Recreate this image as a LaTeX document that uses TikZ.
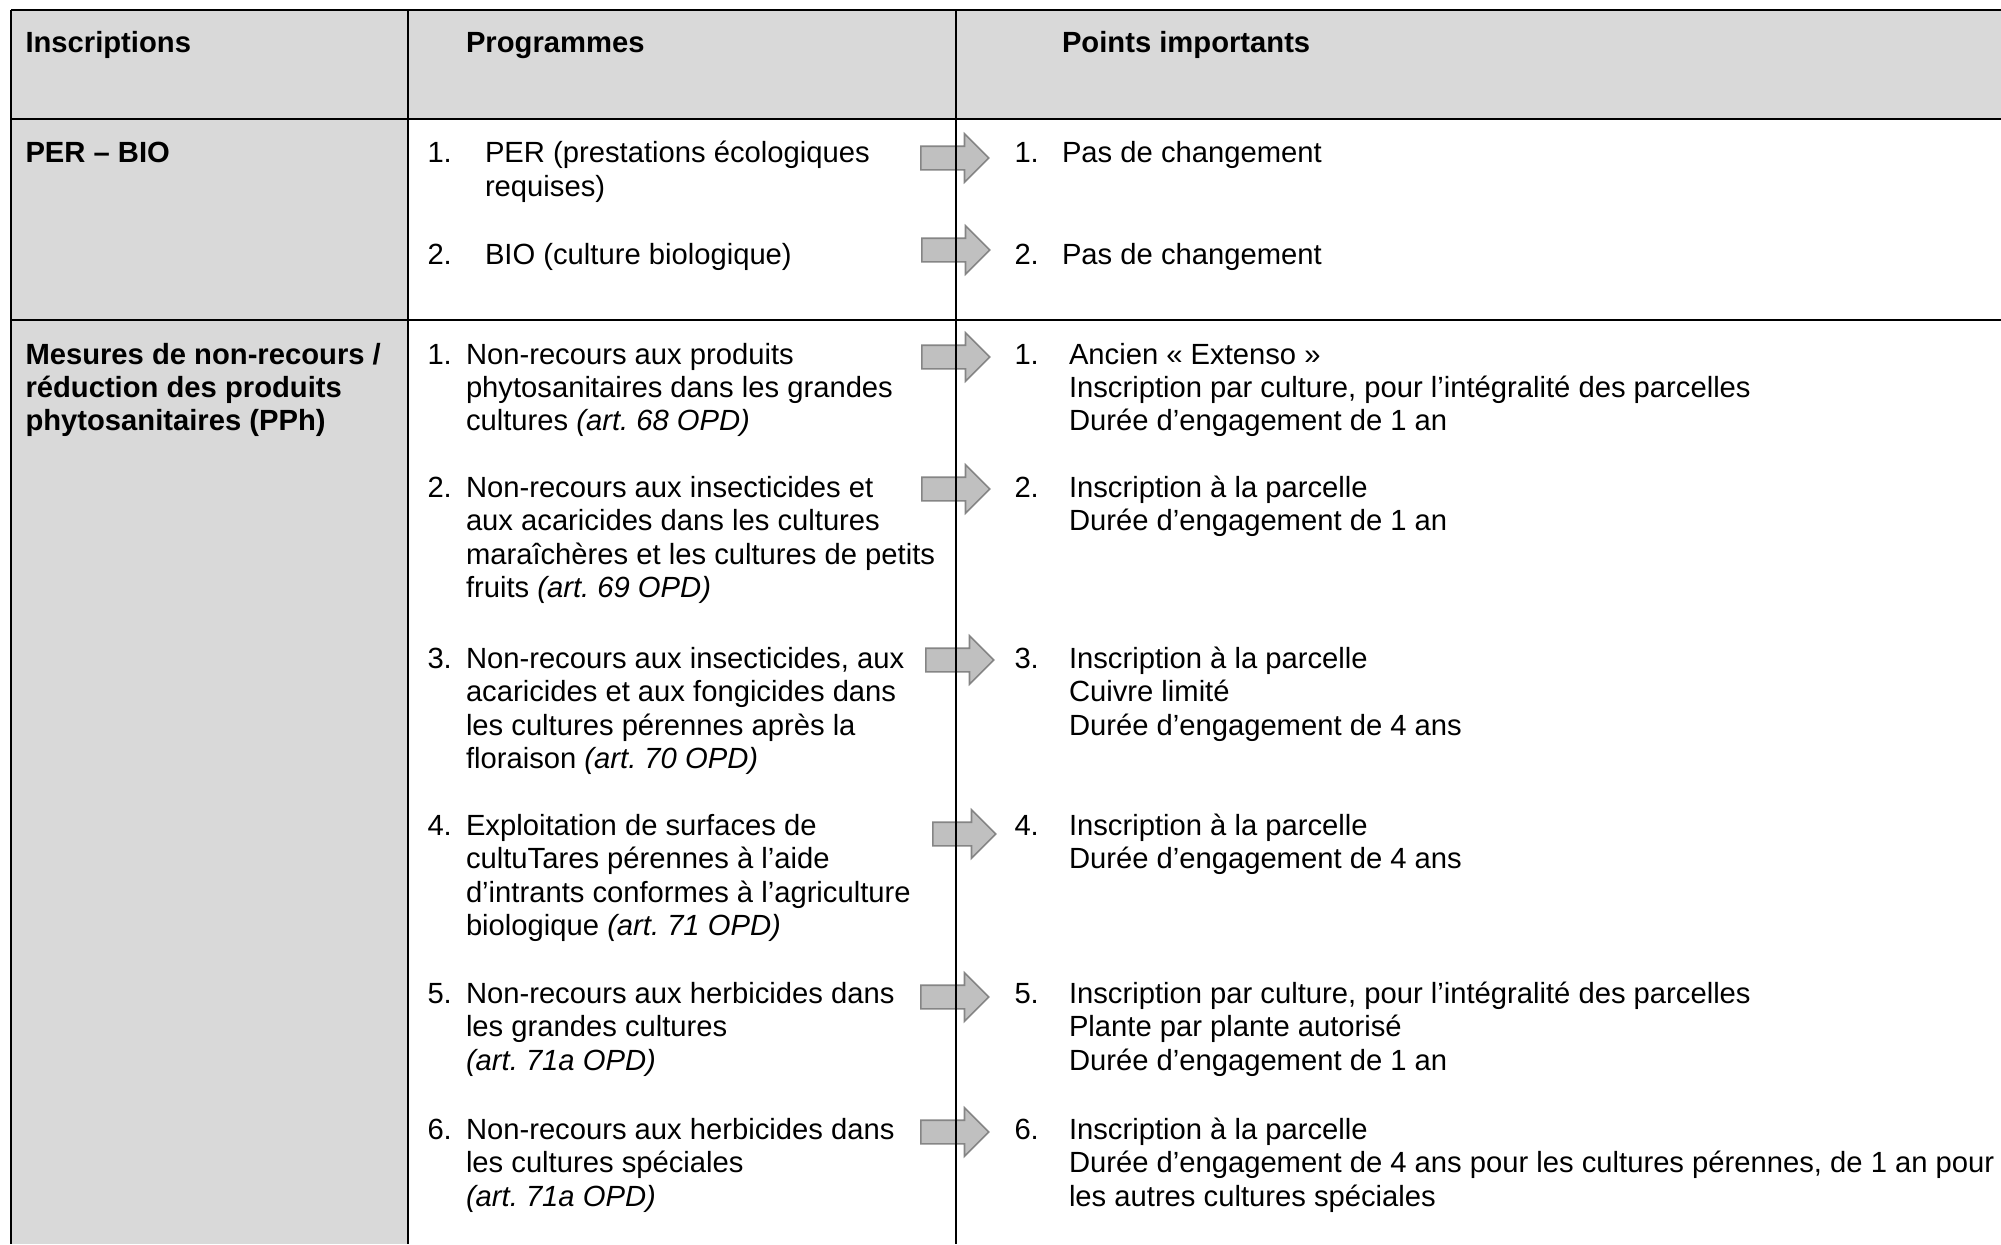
\documentclass[tikz,border=0pt]{standalone}
\usepackage{fontspec}
\setmainfont{Liberation Sans}
\usetikzlibrary{shapes.arrows}
\definecolor{hdgray}{HTML}{D9D9D9}
\definecolor{arrfill}{HTML}{C0C0C0}
\definecolor{arrdraw}{HTML}{858585}
\newcommand\tline[4]{\node[txt] (#1) at (#2,#3) {#4};}
\newcommand\bline[4]{\node[boldtxt] (#1) at (#2,#3) {#4};}
\frenchspacing
\begin{document}
\begin{tikzpicture}[x=0.5pt,y=-0.5pt,
  txt/.style={anchor=base west, inner sep=0pt, outer sep=0pt, font=\fontsize{14.6}{16.6}\selectfont\frenchspacing},
  boldtxt/.style={txt, font=\fontsize{14.6}{16.6}\selectfont\bfseries\frenchspacing},
  rule/.style={line width=1.3pt, black},
  garrow/.style={single arrow, draw=arrdraw, fill=arrfill, line width=0.8pt,
    inner xsep=0pt, inner ysep=5.5pt, minimum width=0pt, minimum height=34pt,
    single arrow head extend=6.25pt, anchor=tail}]
\useasboundingbox (0,0) rectangle (2001,1244);
% backgrounds
\fill[hdgray] (11,10) rectangle (2001,119);
\fill[hdgray] (11,119) rectangle (408,1244);
% arrows
\node[garrow] (aP1) at (920,158) {};
\node[garrow] (aP2) at (921,250) {};
\node[garrow] (aM1) at (921,357) {};
\node[garrow] (aM2) at (921,489) {};
\node[garrow] (aM3) at (925,660) {};
\node[garrow, minimum height=31.5pt] (aM4) at (932,834) {};
\node[garrow] (aM5) at (920,997) {};
\node[garrow] (aM6) at (920,1132) {};
% rules
\coordinate (tl) at (11,10);
\coordinate (tr) at (2001,10);
\coordinate (h1l) at (11,119);
\coordinate (h1r) at (2001,119);
\coordinate (h2l) at (11,320);
\coordinate (h2r) at (2001,320);
\coordinate (bl) at (11,1244);
\coordinate (c1t) at (408,10);
\coordinate (c1b) at (408,1244);
\coordinate (c2t) at (956,10);
\coordinate (c2b) at (956,1244);
\draw[rule] (tl) -- (tr);
\draw[rule] (h1l) -- (h1r);
\draw[rule] (h2l) -- (h2r);
\draw[rule] (tl) -- (bl);
\draw[rule] (c1t) -- (c1b);
\draw[rule] (c2t) -- (c2b);
% header
\bline{hA}{25.5}{52}{Inscriptions}
\bline{hB}{466}{52}{Programmes}
\bline{hC}{1062}{52}{Points importants}
% PER - BIO row
\bline{r1a}{25.5}{162}{PER – BIO}
\tline{p1n}{427.5}{162}{1.}
\tline{p1a}{485}{162}{PER (prestations écologiques}
\tline{p1b}{485}{196}{requises)}
\tline{p2n}{427.5}{264}{2.}
\tline{p2a}{485}{264}{BIO (culture biologique)}
\tline{q1n}{1014.5}{162}{1.}
\tline{q1a}{1062}{162}{Pas de changement}
\tline{q2n}{1014.5}{264}{2.}
\tline{q2a}{1062}{264}{Pas de changement}
% Mesures row, column 1
\bline{m0a}{25.5}{364}{Mesures de non-recours /}
\bline{m0b}{25.5}{397}{réduction des produits}
\bline{m0c}{25.5}{430}{phytosanitaires (PPh)}
% column 2
\tline{m1n}{427.5}{364}{1.}
\tline{m1a}{466}{364}{Non-recours aux produits}
\tline{m1b}{466}{397}{phytosanitaires dans les grandes}
\tline{m1c}{466}{430}{cultures \textit{(art. 68 OPD)}}
\tline{m2n}{427.5}{497}{2.}
\tline{m2a}{466}{497}{Non-recours aux insecticides et}
\tline{m2b}{466}{530.5}{aux acaricides dans les cultures}
\tline{m2c}{466}{564}{maraîchères et les cultures de petits}
\tline{m2d}{466}{597.5}{fruits \textit{(art. 69 OPD)}}
\tline{m3n}{427.5}{668}{3.}
\tline{m3a}{466}{668}{Non-recours aux insecticides, aux}
\tline{m3b}{466}{701.5}{acaricides et aux fongicides dans}
\tline{m3c}{466}{735}{les cultures pérennes après la}
\tline{m3d}{466}{768.5}{floraison \textit{(art. 70 OPD)}}
\tline{m4n}{427.5}{835}{4.}
\tline{m4a}{466}{835}{Exploitation de surfaces de}
\tline{m4b}{466}{868.5}{cultuTares pérennes à l’aide}
\tline{m4c}{466}{902}{d’intrants conformes à l’agriculture}
\tline{m4d}{466}{935.5}{biologique \textit{(art. 71 OPD)}}
\tline{m5n}{427.5}{1003}{5.}
\tline{m5a}{466}{1003}{Non-recours aux herbicides dans}
\tline{m5b}{466}{1036.5}{les grandes cultures}
\tline{m5c}{466}{1070}{\textit{(art. 71a OPD)}}
\tline{m6n}{427.5}{1139}{6.}
\tline{m6a}{466}{1139}{Non-recours aux herbicides dans}
\tline{m6b}{466}{1172.5}{les cultures spéciales}
\tline{m6c}{466}{1206}{\textit{(art. 71a OPD)}}
% column 3
\tline{n1n}{1014.5}{364}{1.}
\tline{n1a}{1069}{364}{Ancien «~Extenso~»}
\tline{n1b}{1069}{397}{Inscription par culture, pour l’intégralité des parcelles}
\tline{n1c}{1069}{430}{Durée d’engagement de 1 an}
\tline{n2n}{1014.5}{497}{2.}
\tline{n2a}{1069}{497}{Inscription à la parcelle}
\tline{n2b}{1069}{530.5}{Durée d’engagement de 1 an}
\tline{n3n}{1014.5}{668}{3.}
\tline{n3a}{1069}{668}{Inscription à la parcelle}
\tline{n3b}{1069}{701.5}{Cuivre limité}
\tline{n3c}{1069}{735}{Durée d’engagement de 4 ans}
\tline{n4n}{1014.5}{835}{4.}
\tline{n4a}{1069}{835}{Inscription à la parcelle}
\tline{n4b}{1069}{868.5}{Durée d’engagement de 4 ans}
\tline{n5n}{1014.5}{1003}{5.}
\tline{n5a}{1069}{1003}{Inscription par culture, pour l’intégralité des parcelles}
\tline{n5b}{1069}{1036.5}{Plante par plante autorisé}
\tline{n5c}{1069}{1070}{Durée d’engagement de 1 an}
\tline{n6n}{1014.5}{1139}{6.}
\tline{n6a}{1069}{1139}{Inscription à la parcelle}
\tline{n6b}{1069}{1172.5}{Durée d’engagement de 4 ans pour les cultures pérennes, de 1 an pour}
\tline{n6c}{1069}{1206}{les autres cultures spéciales}
\end{tikzpicture}
\end{document}
